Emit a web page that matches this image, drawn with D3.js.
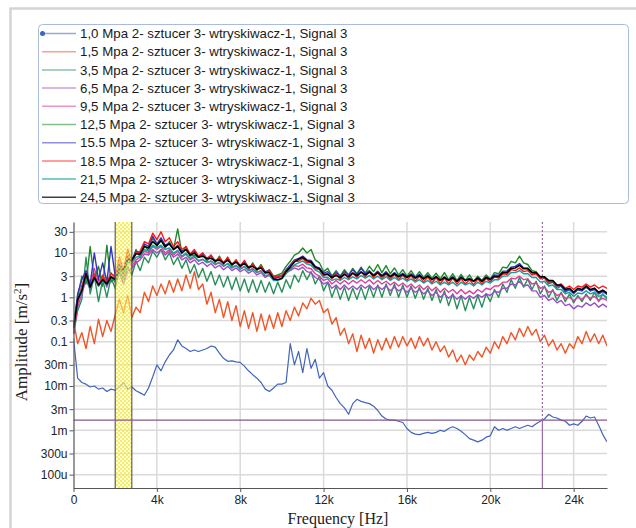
<!DOCTYPE html>
<html>
<head>
<meta charset="utf-8">
<script src="https://cdnjs.cloudflare.com/ajax/libs/d3/7.8.5/d3.min.js"></script>
<style>
  html, body { margin: 0; padding: 0; background: #fff; }
  svg { display: block; }
</style>
</head>
<body>
<svg id="chart" width="636" height="528"></svg>
<script>
// Spectrum data, one value every 200 Hz from 0 to 25.6 kHz (amplitude, m/s^2)
var freqStep = 200;
var freqMax = 25600;
var freq = d3.range(0, freqMax + 1, freqStep);

var seriesNames = [
  "1,0 Mpa 2- sztucer 3- wtryskiwacz-1, Signal 3",
  "1,5 Mpa 2- sztucer 3- wtryskiwacz-1, Signal 3",
  "3,5 Mpa 2- sztucer 3- wtryskiwacz-1, Signal 3",
  "6,5 Mpa 2- sztucer 3- wtryskiwacz-1, Signal 3",
  "9,5 Mpa 2- sztucer 3- wtryskiwacz-1, Signal 3",
  "12,5 Mpa 2- sztucer 3- wtryskiwacz-1, Signal 3",
  "15.5 Mpa 2- sztucer 3- wtryskiwacz-1, Signal 3",
  "18.5 Mpa 2- sztucer 3- wtryskiwacz-1, Signal 3",
  "21,5 Mpa 2- sztucer 3- wtryskiwacz-1, Signal 3",
  "24,5 Mpa 2- sztucer 3- wtryskiwacz-1, Signal 3"
];

var s10 = [0.12,0.015,0.012,0.011,0.0095,0.01,0.0085,0.009,0.0075,0.0085,
  0.008,0.0095,0.012,0.0085,0.0095,0.0078,0.007,0.0062,0.009,0.016,
  0.03,0.022,0.035,0.05,0.065,0.11,0.08,0.07,0.06,0.065,
  0.06,0.065,0.07,0.08,0.075,0.055,0.042,0.036,0.037,0.035,
  0.034,0.028,0.022,0.018,0.015,0.012,0.0085,0.0075,0.009,0.011,
  0.011,0.012,0.09,0.03,0.06,0.02,0.07,0.025,0.04,0.015,
  0.02,0.01,0.008,0.0055,0.004,0.0032,0.0023,0.004,0.005,0.0045,
  0.0042,0.004,0.0035,0.0028,0.0021,0.0018,0.0017,0.0017,0.0016,0.0015,
  0.0011,0.0009,0.00082,0.0008,0.00085,0.0009,0.00085,0.0009,0.001,0.00095,
  0.0011,0.0012,0.0011,0.00095,0.0008,0.00065,0.0006,0.00055,0.0006,0.0007,
  0.00075,0.0012,0.001,0.0011,0.001,0.0011,0.0012,0.0011,0.0012,0.0013,
  0.0012,0.0014,0.0016,0.0018,0.0023,0.002,0.0019,0.0017,0.0016,0.0013,
  0.0014,0.0013,0.0016,0.0021,0.0019,0.002,0.0013,0.0008,0.00055];

var s15 = [0.3,0.09,0.16,0.07,0.22,0.09,0.32,0.13,0.3,0.17,
  0.4,0.9,0.45,1.1,0.35,0.6,0.45,1.3,0.8,1.8,
  1.1,2.0,1.2,2.4,1.3,2.6,1.4,3.2,1.6,3.8,
  1.5,2.0,0.7,1.3,0.45,0.9,0.35,0.8,0.3,0.65,
  0.22,0.5,0.2,0.45,0.17,0.42,0.18,0.4,0.2,0.45,
  0.22,0.5,0.3,0.6,0.38,0.75,0.55,0.95,0.7,0.85,
  0.45,0.55,0.25,0.35,0.14,0.2,0.09,0.15,0.06,0.14,
  0.07,0.12,0.055,0.11,0.065,0.12,0.07,0.13,0.075,0.13,
  0.08,0.12,0.07,0.13,0.08,0.12,0.065,0.1,0.06,0.08,
  0.045,0.065,0.035,0.05,0.03,0.05,0.038,0.06,0.045,0.075,
  0.055,0.1,0.07,0.13,0.09,0.16,0.11,0.2,0.13,0.22,
  0.14,0.19,0.1,0.14,0.08,0.11,0.065,0.09,0.055,0.09,
  0.07,0.13,0.09,0.17,0.1,0.15,0.09,0.14,0.08];

var s35 = [0.15,0.5,0.9,8.0,1.2,3.0,0.8,2.5,1.0,2.8,
  1.6,4.0,2.5,5.0,3.2,6.5,4.0,8.0,6.0,11,
  8,12,7,10,5.5,8,4.5,7,3.5,5.5,
  2.8,4.5,2.3,3.8,1.9,3.2,1.7,3.0,1.5,2.8,
  1.4,2.6,1.3,2.5,1.3,2.4,1.3,2.2,1.2,2.2,
  1.3,2.5,1.6,3.2,2.2,4.0,2.5,3.8,2.0,3.0,
  1.4,2.2,1.0,1.8,0.9,1.7,0.85,1.6,0.9,1.7,
  0.9,1.8,1.0,1.9,1.0,2.0,1.1,2.0,1.0,1.9,
  1.0,1.8,0.95,1.7,0.9,1.6,0.85,1.5,0.75,1.4,
  0.65,1.2,0.55,1.1,0.5,1.0,0.55,1.1,0.6,1.2,
  0.8,1.5,1.0,2.0,1.3,2.5,1.6,2.8,1.7,2.6,
  1.5,2.3,1.2,1.8,1.0,1.5,0.85,1.3,0.8,1.2,
  0.75,1.1,0.8,1.2,0.85,1.3,0.8,1.2,0.9];

var s65 = [0.15,0.6,1.2,2.5,1.5,3.5,1.8,2.8,1.7,3.0,
  2.2,3.5,2.0,4.0,4.5,6.0,7.0,9.5,9.0,12,
  10,12,9,11,8,9.5,7,8,6,7,
  5.5,6.2,5.0,5.8,4.6,5.3,4.2,5.0,4.0,4.6,
  3.8,4.3,3.5,4.0,3.2,3.6,2.8,3.2,2.6,3.0,
  3.2,3.8,4.0,4.6,4.2,4.8,3.8,3.6,2.8,2.5,
  2.0,2.2,1.6,1.9,1.5,1.9,1.5,1.8,1.5,1.9,
  1.6,1.9,1.5,1.8,1.5,1.8,1.4,1.7,1.4,1.6,
  1.3,1.6,1.3,1.5,1.2,1.4,1.1,1.3,1.0,1.2,
  0.95,1.15,0.9,1.1,0.9,1.1,0.95,1.15,1.0,1.2,
  1.1,1.35,1.3,1.6,1.6,2.0,1.9,2.3,1.8,1.9,
  1.4,1.4,1.0,1.1,0.85,0.95,0.75,0.85,0.65,0.7,
  0.55,0.65,0.6,0.75,0.65,0.75,0.6,0.7,0.6];

var s95 = [0.18,0.7,1.6,3.0,1.8,4.5,2.2,3.2,2.0,3.6,
  2.6,6.0,3.0,8.0,5.0,7.0,8.0,11,10,14,
  12,14,10,12,9,11,8,9.5,7,8,
  6.5,7.2,6.0,6.6,5.4,6.2,5.0,5.8,4.6,5.3,
  4.3,5.0,4.0,4.5,3.6,4.0,3.0,3.3,2.6,2.8,
  3.0,3.8,4.4,5.2,5.0,5.6,4.6,4.4,3.4,3.0,
  2.4,2.6,2.0,2.4,2.0,2.4,2.0,2.4,2.1,2.5,
  2.1,2.5,2.0,2.4,2.0,2.3,1.9,2.2,1.8,2.1,
  1.7,2.0,1.6,1.9,1.5,1.8,1.4,1.7,1.3,1.6,
  1.3,1.5,1.2,1.5,1.2,1.4,1.2,1.5,1.3,1.6,
  1.5,1.8,1.8,2.2,2.2,2.7,2.6,3.0,2.5,2.6,
  2.0,2.1,1.6,1.7,1.3,1.4,1.1,1.2,0.95,1.0,
  0.85,1.0,0.9,1.1,0.95,1.05,0.85,0.95,0.85];

var s125 = [0.25,1.0,3.0,2.0,14,2.5,5.0,1.8,15,2.2,
  3.0,5.0,3.5,9.0,6.0,12,8,15,11,22,
  14,20,13,18,12,35,10,14,8.5,9,
  8.0,10,6.5,9.0,6.0,8.5,5.5,8.0,5.0,7.0,
  4.6,6.5,4.2,6.0,4.0,5.5,3.6,4.2,3.0,3.2,
  3.5,5.0,6.5,9.0,10,13,10,12,7.0,6.0,
  3.8,4.5,3.0,4.0,3.0,4.2,3.2,4.5,3.4,4.8,
  3.5,5.0,3.8,5.5,3.6,5.2,3.4,4.6,3.2,4.2,
  3.0,4.0,2.9,3.8,2.8,3.6,2.7,3.5,2.6,3.6,
  2.5,3.4,2.4,3.3,2.4,3.2,2.3,3.0,2.4,3.2,
  2.6,3.6,3.4,4.8,4.6,6.5,6.0,8.5,6.0,5.5,
  4.0,3.8,2.8,2.7,2.0,2.2,1.6,1.8,1.3,1.5,
  1.2,1.5,1.4,1.8,1.4,1.6,1.2,1.4,1.15];

var s155 = [0.2,1.2,2.5,4.0,2.0,10,2.5,6.0,2.2,14,
  3.0,5.5,4.5,8.0,7.0,11,10,16,14,24,
  16,22,15,17,12,15,11,12,9.0,11,
  8.0,9.5,7.5,8.5,6.8,7.5,6.0,7.5,5.6,6.6,
  5.2,6.4,4.8,5.5,4.4,5.0,3.8,4.0,2.8,2.8,
  3.0,4.2,5.4,7.0,7.5,8.5,7.0,6.8,5.0,4.6,
  3.5,3.8,3.0,3.6,3.0,3.8,3.1,4.2,3.3,4.5,
  3.4,4.0,3.2,3.9,3.1,3.8,3.0,3.6,3.0,3.5,
  2.9,3.4,2.8,3.3,2.6,3.2,2.5,3.0,2.4,2.9,
  2.4,2.9,2.3,2.9,2.4,2.7,2.3,2.8,2.4,2.9,
  2.6,3.2,3.1,3.9,3.9,4.8,5.0,5.8,4.6,4.6,
  3.6,3.5,2.8,2.8,2.2,2.3,1.8,1.8,1.4,1.5,
  1.25,1.5,1.4,1.7,1.4,1.5,1.2,1.35,1.2];

var s185 = [0.15,0.8,1.8,3.5,1.6,3.2,1.8,3.0,2.2,3.4,
  3.0,8.0,4.0,12,6.0,10,11,18,16,28,
  20,30,18,22,14,18,12,14,9.5,12,
  8.5,10,7.5,9.0,6.5,8.0,6.0,8.0,5.5,7.0,
  5.0,6.8,4.6,5.6,4.2,5.0,3.5,4.0,2.8,3.0,
  3.0,4.0,5.0,6.5,6.5,7.5,6.0,6.0,4.4,4.2,
  3.0,3.5,2.6,3.4,2.5,3.5,2.6,3.6,2.8,3.8,
  2.9,3.8,2.8,3.6,2.6,3.4,2.5,3.3,2.5,3.2,
  2.4,3.1,2.3,3.0,2.2,2.9,2.1,2.8,2.0,2.7,
  2.0,2.7,2.0,2.6,2.0,2.5,1.9,2.6,2.0,2.7,
  2.2,2.9,2.7,3.4,3.3,4.2,4.0,4.6,3.8,4.0,
  3.2,3.4,2.6,2.8,2.2,2.3,1.8,2.0,1.6,1.8,
  1.5,1.8,1.7,2.0,1.7,1.9,1.6,1.8,1.6];

var s215 = [0.2,0.9,1.6,2.8,1.6,2.6,1.8,2.3,1.9,2.6,
  2.4,3.8,3.8,6.0,6.0,8.0,8.5,12,11,15,
  13,15,12,13,10,11.5,8.5,10,7.5,8.5,
  6.8,7.2,6.2,6.5,5.6,6.0,5.0,5.8,4.6,5.2,
  4.3,4.9,4.0,4.3,3.7,3.9,3.1,3.1,2.4,2.4,
  2.6,3.4,4.2,5.4,6.0,6.6,5.6,5.3,4.1,3.7,
  2.8,2.8,2.4,2.6,2.4,2.8,2.5,2.9,2.6,3.1,
  2.7,3.1,2.6,3.0,2.5,2.9,2.4,2.8,2.4,2.7,
  2.3,2.6,2.2,2.5,2.1,2.4,2.0,2.3,1.9,2.2,
  1.9,2.2,1.8,2.2,1.9,2.1,1.8,2.2,1.9,2.3,
  2.1,2.5,2.5,3.0,3.0,3.6,3.6,4.0,3.4,3.4,
  2.8,2.8,2.2,2.3,1.8,1.9,1.5,1.5,1.2,1.3,
  1.05,1.25,1.2,1.4,1.2,1.3,1.05,1.15,1.0];

var s245 = [0.2,0.9,1.4,3.4,1.7,2.8,1.9,2.5,2.0,2.9,
  2.5,4.3,4.2,7.0,7.0,9.6,9.4,14,13,18,
  15,19,14,16,12,14,10,12,9.0,10,
  8.0,8.5,7.4,7.6,6.6,7.0,5.9,6.9,5.5,6.2,
  5.1,5.8,4.7,5.0,4.3,4.6,3.6,3.6,2.6,2.5,
  2.7,3.8,4.8,6.3,7.2,8.0,6.7,6.3,4.8,4.4,
  3.3,3.3,2.8,3.1,2.8,3.3,2.9,3.5,3.1,3.7,
  3.2,3.7,3.1,3.6,3.0,3.5,2.9,3.4,2.9,3.3,
  2.8,3.2,2.7,3.1,2.6,3.0,2.5,2.9,2.4,2.8,
  2.4,2.8,2.3,2.8,2.4,2.6,2.3,2.7,2.3,2.8,
  2.5,3.0,2.9,3.6,3.6,4.5,4.6,5.3,4.4,4.4,
  3.6,3.6,2.9,2.9,2.4,2.4,1.9,1.9,1.5,1.6,
  1.3,1.6,1.5,1.8,1.5,1.6,1.3,1.45,1.25];

var seriesValues = [s10, s15, s35, s65, s95, s125, s155, s185, s215, s245];
var seriesColors = ["#4264bb", "#f25528", "#2b8f5c", "#9a4fc6", "#e03d98",
                    "#1d8a28", "#3434c2", "#ff1414", "#17a0a0", "#000000"];

// Axis ticks
var yTickValues = [30, 10, 3, 1, 0.3, 0.1, 0.03, 0.01, 0.003, 0.001, 0.0003, 0.0001];
var yTickLabels = ["30", "10", "3", "1", "0.3", "0.1", "30m", "10m", "3m", "1m", "300u", "100u"];
var xTickValues = [0, 4000, 8000, 12000, 16000, 20000, 24000];
var xTickLabels = ["0", "4k", "8k", "12k", "16k", "20k", "24k"];

// Cursor / marker band
var bandFrom = 2000, bandTo = 2800;
var cursorFreq = 22500;
var cursorLevel = 0.0017;

// Layout
var svg = d3.select("#chart");
var plot = { left: 73.5, right: 607, top: 222, bottom: 488 };

var x = d3.scaleLinear().domain([0, freqMax]).range([plot.left, plot.right]);
var y = d3.scaleLog().domain([5e-5, 50]).range([plot.bottom, plot.top]);

var tickFont = "'Liberation Sans', Arial, sans-serif";
var serifFont = "'Liberation Serif', 'Times New Roman', serif";

// outer frame
svg.append("rect")
    .attr("x", 10.5).attr("y", 8.5)
    .attr("width", 700).attr("height", 600)
    .attr("fill", "none")
    .attr("stroke", "#d4d4d4")
    .attr("stroke-width", 2.5);

// legend box
svg.append("rect")
    .attr("x", 38.5).attr("y", 24.5)
    .attr("width", 590).attr("height", 179)
    .attr("rx", 4)
    .attr("fill", "#fff")
    .attr("stroke", "#a9bcd9")
    .attr("stroke-width", 1);

var legend = svg.append("g");
seriesNames.forEach(function(name, i) {
  var ly = 33.5 + i * 18.2;
  legend.append("line")
      .attr("x1", 42).attr("x2", 76)
      .attr("y1", ly).attr("y2", ly)
      .attr("stroke", seriesColors[i])
      .attr("stroke-opacity", i === 9 ? 0.75 : 0.55)
      .attr("stroke-width", i === 8 ? 2 : 1.5);
  if (i === 0) {
    legend.append("circle")
        .attr("cx", 42.5).attr("cy", ly).attr("r", 2.5)
        .attr("fill", seriesColors[0]);
  }
  legend.append("text")
      .attr("x", 80).attr("y", ly + 4.6)
      .attr("font-family", tickFont)
      .attr("font-size", "13.3px")
      .attr("fill", "#1a1a1a")
      .text(name);
});

// grid
var grid = svg.append("g");
grid.selectAll("line.h").data(yTickValues).enter().append("line")
    .attr("x1", plot.left).attr("x2", plot.right)
    .attr("y1", function(d) { return y(d); })
    .attr("y2", function(d) { return y(d); })
    .attr("stroke", "#dadada").attr("stroke-width", 1.5);
grid.selectAll("line.v").data(xTickValues.slice(1)).enter().append("line")
    .attr("x1", function(d) { return x(d); })
    .attr("x2", function(d) { return x(d); })
    .attr("y1", plot.top).attr("y2", plot.bottom)
    .attr("stroke", "#dadada").attr("stroke-width", 1.5);

// clip
svg.append("clipPath").attr("id", "clip")
  .append("rect")
    .attr("x", plot.left).attr("y", plot.top)
    .attr("width", plot.right - plot.left)
    .attr("height", plot.bottom - plot.top);

var lines = svg.append("g").attr("clip-path", "url(#clip)");
var line = d3.line()
    .x(function(d, i) { return x(freq[i]); })
    .y(function(d) { return y(d); });

seriesValues.forEach(function(vals, i) {
  lines.append("path")
      .datum(vals)
      .attr("d", line)
      .attr("fill", "none")
      .attr("stroke", seriesColors[i])
      .attr("stroke-width", i === 0 ? 1.2 : (i === 9 ? 1.6 : 1.4))
      .attr("stroke-linejoin", "round");
});

// hatched band
var defs = svg.append("defs");
var pat = defs.append("pattern")
    .attr("id", "hatch")
    .attr("patternUnits", "userSpaceOnUse")
    .attr("width", 4).attr("height", 4);
pat.append("rect").attr("width", 4).attr("height", 4).attr("fill", "#ffffb0").attr("fill-opacity", 0.55);
pat.append("rect").attr("x", 0).attr("y", 0).attr("width", 2).attr("height", 2).attr("fill", "#f3ea3c");
pat.append("rect").attr("x", 2).attr("y", 2).attr("width", 2).attr("height", 2).attr("fill", "#f3ea3c");

svg.append("rect")
    .attr("x", x(bandFrom)).attr("y", plot.top)
    .attr("width", x(bandTo) - x(bandFrom))
    .attr("height", plot.bottom - plot.top)
    .attr("fill", "url(#hatch)")
    .attr("opacity", 0.8);
[bandFrom, bandTo].forEach(function(f) {
  svg.append("line")
      .attr("x1", x(f)).attr("x2", x(f))
      .attr("y1", plot.top).attr("y2", plot.bottom)
      .attr("stroke", "#444").attr("stroke-width", 1);
});

// cursor lines
svg.append("line")
    .attr("x1", plot.left).attr("x2", plot.right)
    .attr("y1", y(cursorLevel)).attr("y2", y(cursorLevel))
    .attr("stroke", "#86578f").attr("stroke-width", 1.2);
svg.append("line")
    .attr("x1", x(cursorFreq)).attr("x2", x(cursorFreq))
    .attr("y1", plot.top).attr("y2", y(cursorLevel))
    .attr("stroke", "#9a6aa6").attr("stroke-width", 1.2)
    .attr("stroke-dasharray", "2,2");
svg.append("line")
    .attr("x1", x(cursorFreq)).attr("x2", x(cursorFreq))
    .attr("y1", y(cursorLevel)).attr("y2", plot.bottom)
    .attr("stroke", "#9a6aa6").attr("stroke-width", 1.2);

// axes
var yAxis = d3.axisLeft(y)
    .tickValues(yTickValues)
    .tickFormat(function(d, i) { return yTickLabels[i]; })
    .tickSize(4).tickSizeOuter(0);
var xAxis = d3.axisBottom(x)
    .tickValues(xTickValues)
    .tickFormat(function(d, i) { return xTickLabels[i]; })
    .tickSize(4).tickSizeOuter(0);

var gy = svg.append("g")
    .attr("transform", "translate(" + plot.left + ",0)")
    .call(yAxis);
var gx = svg.append("g")
    .attr("transform", "translate(0," + plot.bottom + ")")
    .call(xAxis);

[gx, gy].forEach(function(g) {
  g.select(".domain").attr("stroke", "#555").attr("stroke-width", 1.2);
  g.selectAll(".tick line").attr("stroke", "#555");
  g.selectAll(".tick text")
      .attr("font-family", tickFont)
      .attr("font-size", "12px")
      .attr("fill", "#222");
});
gy.selectAll(".tick text").attr("x", -6);
gx.selectAll(".tick text").attr("y", 7);

// axis titles
var yTitle = svg.append("text")
    .attr("transform", "translate(27,342) rotate(-90)")
    .attr("text-anchor", "middle")
    .attr("font-family", serifFont)
    .attr("font-size", "17px")
    .attr("fill", "#222");
yTitle.append("tspan").text("Amplitude [m/s");
yTitle.append("tspan").attr("baseline-shift", "super").attr("font-size", "11px").text("2");
yTitle.append("tspan").text("]");

svg.append("text")
    .attr("x", 338).attr("y", 524)
    .attr("text-anchor", "middle")
    .attr("font-family", serifFont)
    .attr("font-size", "16px")
    .attr("fill", "#222")
    .text("Frequency [Hz]");
</script>
</body>
</html>
